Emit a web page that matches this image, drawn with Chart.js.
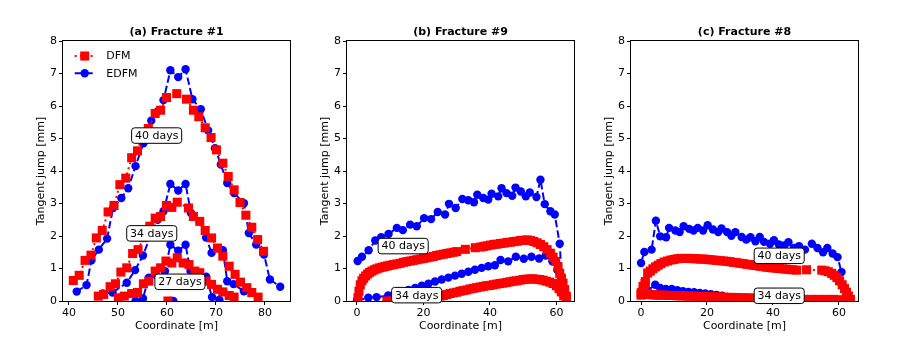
<!DOCTYPE html>
<html><head><meta charset="utf-8">
<script src="https://cdn.jsdelivr.net/npm/chart.js@4.4.0/dist/chart.umd.min.js"></script>
<style>
html,body{margin:0;padding:0;background:#fff;}
#wrap{position:relative;width:904px;height:339px;overflow:hidden;background:#fff;}
canvas{position:absolute;top:0;}
</style></head><body>
<div id="wrap">
<canvas id="ca" width="300" height="339" style="left:0px;width:300px;height:339px"></canvas>
<canvas id="cb" width="300" height="339" style="left:284px;width:300px;height:339px"></canvas>
<canvas id="cc" width="300" height="339" style="left:568px;width:300px;height:339px"></canvas>
</div>
<script>
// ---------- tick labels ----------
const yTicks = [0, 1, 2, 3, 4, 5, 6, 7, 8];
const xTicksA = [40, 50, 60, 70, 80];
const xTicksBC = [0, 20, 40, 60];
const dayLabelsA = ['40 days', '34 days', '27 days'];
const dayLabelsBC = ['40 days', '34 days'];

// ---------- (a) Fracture #1 ----------
const a40DfmX = [40.9,42.1,43.3,44.5,45.6,46.8,48.0,49.2,50.4,51.6,52.8,54.0,55.1,56.2,57.6,58.7,59.9,62.0,64.0,65.4,66.5,67.8,69.0,70.1,71.4,72.5,73.7,74.9,76.1,77.3,78.5,79.7];
const a40DfmY = [0.63,0.79,1.25,1.41,1.94,2.17,2.74,2.94,3.58,3.78,4.41,4.62,5.15,5.31,5.77,5.87,6.26,6.38,6.21,5.87,5.67,5.33,5.03,4.65,4.24,3.83,3.42,3.03,2.64,2.27,1.89,1.53];
const a40EdfmX = [41.6,43.6,44.6,46.1,47.8,49.0,50.7,52.1,53.6,55.2,56.8,58.2,59.3,60.7,62.3,63.8,65.2,66.9,68.4,69.8,71.0,72.3,73.7,75.7,76.7,78.2,79.8,81.0,83.1];
const a40EdfmY = [0.29,0.49,1.25,1.58,1.92,2.86,3.17,3.47,4.15,4.85,5.55,5.85,6.18,7.10,6.89,7.13,6.21,5.90,5.25,4.70,4.20,3.63,3.32,3.01,2.09,1.74,1.43,0.66,0.44];
const a34DfmX = [46.0,47.1,48.4,49.5,50.6,51.8,53.0,54.1,55.3,56.5,57.6,58.7,59.9,61.0,62.1,64.4,65.4,66.7,67.8,69.1,70.3,71.4,72.7,73.9,75.0,76.3,77.3,78.6];
const a34DfmY = [0.15,0.20,0.44,0.53,0.89,1.02,1.46,1.58,1.95,2.30,2.55,2.60,2.94,2.88,3.04,2.86,2.60,2.45,2.17,1.94,1.63,1.38,1.07,0.82,0.58,0.41,0.26,0.12];
const a34EdfmX = [46.9,48.9,51.8,53.5,55.1,56.7,58.1,59.3,60.7,62.3,63.8,64.9,66.7,68.0,69.1,70.3,71.4,72.3,73.6,75.7];
const a34EdfmY = [0.23,0.26,0.56,0.95,1.40,2.02,2.50,2.76,3.60,3.40,3.60,2.71,2.45,1.95,1.48,1.62,1.56,0.61,0.52,0.30];
const a27DfmX = [50.1,51.3,52.8,54.0,55.2,56.3,57.6,58.7,59.8,61.0,62.1,63.3,64.5,65.7,66.7,68.0,69.1,70.3,71.4,72.7,73.7];
const a27DfmY = [0.10,0.15,0.23,0.26,0.53,0.61,0.92,1.02,1.23,1.17,1.33,1.17,1.12,0.92,0.87,0.61,0.51,0.36,0.28,0.17,0.12];
const a27EdfmX = [53.6,55.1,56.3,57.9,59.6,60.7,62.3,63.8,64.8,66.5,68.0,69.2,70.7];
const a27EdfmY = [0.00,0.08,0.72,0.78,0.92,1.73,1.55,1.73,0.92,0.85,0.75,0.12,0.04];
const aEarlyDfmX = [60.2];
const aEarlyDfmY = [0.0];
const aEarlyEdfmX = [60.7, 61.3];
const aEarlyEdfmY = [0.0, 0.0];

// ---------- (b) Fracture #9 ----------
const b40DfmX = [0.3,0.6,1.0,1.5,2.0,2.6,3.2,3.8,4.5,5.2,6.0,6.8,7.6,8.4,9.2,10,11,12,13,14,15,16,17,18,19,20,21,22,23,24,25,26,27,28,29,30,32.6,35.6,37.2,38.2,39.2,40.2,41.2,42.2,43.2,44.2,45.2,46.2,47.2,48.2,49.2,50.2,51.2,52.2,53.2,54.2,55.2,56.2,57.2,58.2,59.0,59.8,60.5,61.0,61.5,62.0,62.5,63.0];
const b40DfmY = [0.10,0.30,0.50,0.62,0.70,0.77,0.83,0.88,0.92,0.96,0.99,1.02,1.04,1.06,1.08,1.10,1.12,1.14,1.16,1.19,1.21,1.23,1.25,1.27,1.29,1.31,1.33,1.35,1.37,1.40,1.42,1.44,1.46,1.48,1.50,1.52,1.59,1.64,1.66,1.68,1.70,1.72,1.74,1.75,1.77,1.78,1.80,1.81,1.83,1.84,1.86,1.87,1.88,1.86,1.83,1.79,1.74,1.67,1.58,1.47,1.35,1.22,1.05,0.85,0.70,0.55,0.35,0.15];
const b40EdfmX = [0.2,1.5,3.5,5.5,7.3,9.5,12.0,13.8,16.0,18.0,20.2,22.3,24.3,26.5,27.7,29.7,31.7,33.5,35.2,36.2,38.0,39.5,40.5,42.5,43.5,45.0,46.7,47.7,49.3,50.8,52.0,54.0,55.2,56.5,58.2,59.5,61.0,61.6];
const b40EdfmY = [1.23,1.36,1.56,1.86,1.96,2.06,2.25,2.18,2.35,2.30,2.55,2.52,2.74,2.66,2.99,2.86,3.14,3.10,3.04,3.27,3.17,3.12,3.30,3.22,3.47,3.32,3.24,3.49,3.37,3.22,3.34,3.20,3.73,2.98,2.76,2.66,1.76,0.75];
const b34DfmX = [9,11,13,15,17,19,21,22.5,24,25,26,27,28,29,30,31,32,33,34,35,36,37,38,39,40,41,42,43,44,45,46,47,48,49,50,51,52,53,54,55,56,57,58,59,60,60.8,61.5,62.2,63.0];
const b34DfmY = [0.00,0.01,0.02,0.03,0.05,0.07,0.09,0.11,0.13,0.15,0.17,0.20,0.23,0.25,0.27,0.30,0.32,0.34,0.37,0.39,0.41,0.43,0.45,0.47,0.48,0.50,0.52,0.54,0.55,0.57,0.59,0.61,0.62,0.64,0.66,0.67,0.68,0.68,0.67,0.66,0.64,0.61,0.58,0.54,0.47,0.38,0.28,0.16,0.05];
const b34EdfmX = [0.0,3.4,5.9,9.4,11.5,13.5,15.5,17.5,19.5,21.5,23.5,25.5,27.5,29.5,31.5,33.5,35.5,37.5,39.5,41.5,43.2,45.5,47.8,50.2,52.5,54.8,56.8,58.8,60.3,61.2];
const b34EdfmY = [0.02,0.10,0.12,0.17,0.22,0.28,0.34,0.40,0.47,0.53,0.60,0.66,0.72,0.78,0.84,0.90,0.96,1.02,1.07,1.10,1.26,1.22,1.36,1.30,1.36,1.31,1.40,1.22,0.95,0.78];

// ---------- (c) Fracture #8 ----------
const c40DfmX = [0.0,0.6,1.3,2.0,2.8,3.6,4.4,5.2,6.0,7,8,9,10,11,12,13,14,15,16,17,18,19,20,21,22,23,24,25,26,27,28,29,30,31,32,33,34,35,36,37,38,39,40,41,42,43,44,45,46,47.2,50.2,54.8,55.8,56.8,57.8,58.6,59.4,60.2,61.0,61.7,62.3,62.9,63.5];
const c40DfmY = [0.25,0.45,0.60,0.86,0.92,0.99,1.05,1.10,1.15,1.20,1.23,1.26,1.28,1.30,1.31,1.31,1.31,1.31,1.30,1.30,1.29,1.29,1.28,1.27,1.26,1.25,1.24,1.23,1.22,1.21,1.19,1.18,1.16,1.15,1.13,1.12,1.10,1.09,1.07,1.06,1.04,1.03,1.02,1.01,1.00,0.99,0.98,0.97,0.96,0.95,0.96,0.95,0.93,0.90,0.85,0.79,0.72,0.62,0.50,0.38,0.27,0.15,0.05];
const c40EdfmX = [0.0,1.0,3.2,4.5,5.8,7.6,8.5,10.4,11.7,12.9,14.6,15.9,17.2,18.8,20.2,21.8,23.4,24.4,26.1,27.4,28.6,30.5,31.9,33.2,34.7,36.0,37.3,39.1,40.3,41.8,43.4,44.7,46.4,47.9,49.7,51.8,53.5,55.2,56.5,58.1,59.6,60.8];
const c40EdfmY = [1.17,1.51,1.58,2.47,1.99,1.96,2.25,2.17,2.12,2.30,2.22,2.17,2.25,2.17,2.33,2.20,2.12,2.23,2.12,2.01,2.12,1.97,1.89,1.96,1.84,1.97,1.82,1.76,1.87,1.74,1.71,1.81,1.63,1.69,1.58,1.76,1.63,1.50,1.63,1.46,1.35,0.89];
const c34DfmX = [0.0,0.6,1.2,1.9,2.6,3.3,4,5,6,7,8,9,10,11,12,13,14,15,16,17,18,19,20,21,22,23,24,25,26,27,28,29,30,31,32,33,34,35,36,37,38,39,40,41,42,43,44,45,46,47,49.3,51.6,53.9,56.2,58.5,60.8,62.5,63.5];
const c34DfmY = [0.18,0.29,0.54,0.24,0.20,0.19,
  0.19,0.18,0.18,0.18,0.17,0.17,0.17,0.16,0.16,0.16,
  0.15,0.15,0.15,0.14,0.14,0.14,0.13,0.13,0.13,0.12,
  0.12,0.12,0.11,0.11,0.11,0.10,0.10,0.10,0.09,0.09,
  0.09,0.08,0.08,0.08,0.07,0.07,0.07,0.07,0.06,0.06,
  0.06,0.06,0.05,0.05,
  0.05,0.05,0.05,0.05,0.05,0.04,0.03,0.02];
const c34EdfmX = [0.0,2.0,4.3,5.8,7.5,9.3,11.0,12.7,14.4,16.1,17.8,19.5,21.2,22.9,24.6,26.3,28.0,29.7,31.4,33.1];
const c34EdfmY = [0.30,0.33,0.50,0.40,0.37,0.37,0.33,0.30,0.28,0.27,0.25,0.23,0.21,0.19,0.16,0.12,0.09,0.06,0.03,0.01];

// ---------- styling / helpers ----------
const RED = '#ff0000', BLUE = '#0000ff';
Chart.defaults.font.family = "'DejaVu Sans', sans-serif";
Chart.defaults.font.size = 11;
Chart.defaults.color = '#000';

function pts(xs, ys) { return xs.map((x, i) => ({ x: x, y: ys[i] })); }
function ds(kind, xs, ys) {
  const d = kind === 'DFM';
  const c = d ? RED : BLUE;
  const r = d ? 6.4 : 4.2;
  return {
    label: kind, data: pts(xs, ys), showLine: true, fill: false,
    borderColor: c, backgroundColor: c, pointBackgroundColor: c, pointBorderColor: c,
    borderWidth: 2, borderDash: d ? [2, 3.3] : [7.4, 3.2],
    pointStyle: d ? 'rect' : 'circle', pointRadius: r, pointHoverRadius: r,
    pointBorderWidth: 0, tension: 0, clip: 0
  };
}

// annotation / legend placements (per canvas)
const decorations = {
  ca: { boxes: [[57.9, 5.09], [56.9, 2.08], [62.65, 0.59]], texts: dayLabelsA, legend: ['DFM', 'EDFM'] },
  cb: { boxes: [[13.9, 1.69], [17.95, 0.18]], texts: dayLabelsBC, legend: null },
  cc: { boxes: [[41.9, 1.39], [41.9, 0.16]], texts: dayLabelsBC, legend: null }
};

function roundRectPath(ctx, x, y, w, h, r) {
  ctx.beginPath();
  ctx.moveTo(x + r, y);
  ctx.lineTo(x + w - r, y); ctx.arcTo(x + w, y, x + w, y + r, r);
  ctx.lineTo(x + w, y + h - r); ctx.arcTo(x + w, y + h, x + w - r, y + h, r);
  ctx.lineTo(x + r, y + h); ctx.arcTo(x, y + h, x, y + h - r, r);
  ctx.lineTo(x, y + r); ctx.arcTo(x, y, x + r, y, r);
  ctx.closePath();
}

const decorPlugin = {
  id: 'decor',
  afterDatasetsDraw(chart) {
    const { ctx, chartArea: a, scales } = chart;
    const dec = decorations[chart.canvas.id];
    ctx.save();
    // full frame
    ctx.setLineDash([]);
    ctx.strokeStyle = '#000'; ctx.lineWidth = 1;
    ctx.strokeRect(a.left - 0.5, a.top - 0.5, a.right - a.left + 1, a.bottom - a.top + 1);
    // day labels
    ctx.font = "11px 'DejaVu Sans'";
    ctx.textAlign = 'center'; ctx.textBaseline = 'middle';
    dec.boxes.forEach((p, i) => {
      const t = dec.texts[i];
      const px = scales.x.getPixelForValue(p[0]);
      const py = scales.y.getPixelForValue(p[1]);
      const w = ctx.measureText(t).width + 6.6, h = 15.5;
      roundRectPath(ctx, px - w / 2, py - h / 2, w, h, 3);
      ctx.fillStyle = '#fff'; ctx.fill();
      ctx.strokeStyle = '#000'; ctx.lineWidth = 1; ctx.stroke();
      ctx.fillStyle = '#000';
      ctx.fillText(t, px, py + 0.5);
    });
    // legend
    if (dec.legend) {
      dec.legend.forEach((name, i) => {
        const d = chart.data.datasets.find(s => s.label === name);
        const y = a.top + 15 + i * 17.3;
        const x0 = a.left + 11.7, x1 = x0 + 20, cx = (x0 + x1) / 2;
        ctx.save();
        ctx.strokeStyle = d.borderColor; ctx.lineWidth = d.borderWidth;
        ctx.setLineDash(d.borderDash);
        ctx.beginPath(); ctx.moveTo(x0, y); ctx.lineTo(x1, y); ctx.stroke();
        ctx.setLineDash([]);
        ctx.fillStyle = d.backgroundColor;
        if (d.pointStyle === 'rect') {
          const s = d.pointRadius * Math.SQRT2;
          ctx.fillRect(cx - s / 2, y - s / 2, s, s);
        } else {
          ctx.beginPath(); ctx.arc(cx, y, d.pointRadius, 0, Math.PI * 2); ctx.fill();
        }
        ctx.restore();
        ctx.fillStyle = '#000'; ctx.textAlign = 'left'; ctx.textBaseline = 'middle';
        ctx.fillText(name, a.left + 43.3, y + 0.5);
      });
    }
    ctx.restore();
  }
};

function makeChart(id, title, xmin, xmax, xticks, datasets) {
  return new Chart(document.getElementById(id), {
    type: 'scatter',
    data: { datasets: datasets },
    plugins: [decorPlugin],
    options: {
      responsive: false, animation: false, events: [],
      layout: { padding: { left: 0, right: 10, top: 0, bottom: 0 } },
      scales: {
        x: {
          type: 'linear', min: xmin, max: xmax,
          afterBuildTicks: s => { s.ticks = xticks.map(v => ({ value: v })); },
          afterFit: s => { s.height = 38; },
          grid: { drawOnChartArea: false, drawTicks: true, tickLength: 4, color: '#000', lineWidth: 1 },
          border: { display: false },
          ticks: { padding: 2, color: '#000', font: { size: 11 }, maxRotation: 0, autoSkip: false },
          title: { display: true, text: 'Coordinate [m]', color: '#000', font: { size: 11 }, padding: { top: 0, bottom: 6 } }
        },
        y: {
          type: 'linear', min: 0, max: 8,
          afterBuildTicks: s => { s.ticks = yTicks.map(v => ({ value: v })); },
          afterFit: s => { s.width = 63; },
          grid: { drawOnChartArea: false, drawTicks: true, tickLength: 4, color: '#000', lineWidth: 1 },
          border: { display: false },
          ticks: { padding: 2, color: '#000', font: { size: 11 }, autoSkip: false },
          title: { display: true, text: 'Tangent jump [mm]', color: '#000', font: { size: 11 }, padding: { top: 35, bottom: 0 } }
        }
      },
      plugins: {
        legend: { display: false },
        tooltip: { enabled: false },
        title: { display: true, text: title, fullSize: false, color: '#000',
                 font: { size: 11, weight: 'bold' }, padding: { top: 26, bottom: 1.8 } }
      }
    }
  });
}

makeChart('ca', '(a) Fracture #1', 38.8, 85.1, xTicksA, [
  ds('DFM', a40DfmX, a40DfmY), ds('DFM', a34DfmX, a34DfmY), ds('DFM', a27DfmX, a27DfmY), ds('DFM', aEarlyDfmX, aEarlyDfmY),
  ds('EDFM', a40EdfmX, a40EdfmY), ds('EDFM', a34EdfmX, a34EdfmY), ds('EDFM', a27EdfmX, a27EdfmY), ds('EDFM', aEarlyEdfmX, aEarlyEdfmY)
]);
makeChart('cb', '(b) Fracture #9', -3.0, 65.3, xTicksBC, [
  ds('DFM', b40DfmX, b40DfmY), ds('DFM', b34DfmX, b34DfmY),
  ds('EDFM', b40EdfmX, b40EdfmY), ds('EDFM', b34EdfmX, b34EdfmY)
]);
makeChart('cc', '(c) Fracture #8', -3.05, 65.8, xTicksBC, [
  ds('DFM', c40DfmX, c40DfmY), ds('DFM', c34DfmX, c34DfmY),
  ds('EDFM', c40EdfmX, c40EdfmY), ds('EDFM', c34EdfmX, c34EdfmY)
]);
</script>
</body></html>
